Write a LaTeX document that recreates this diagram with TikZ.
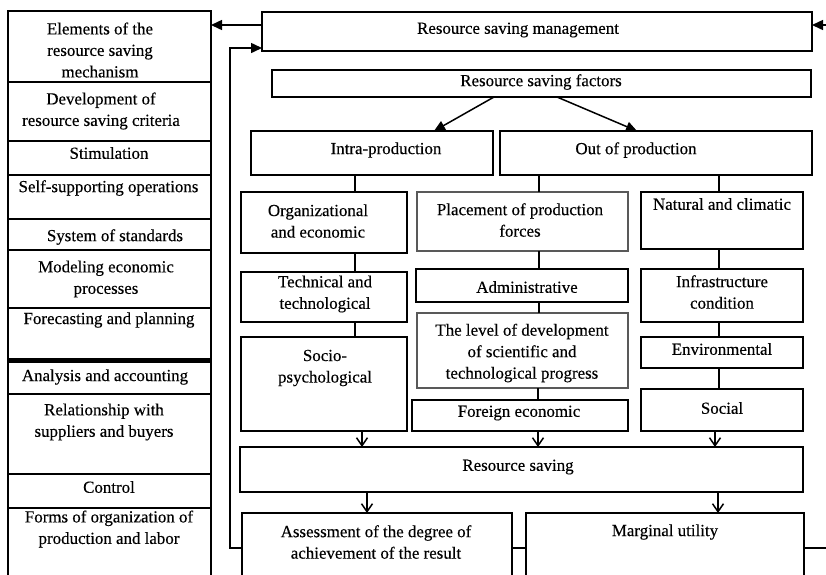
\documentclass[tikz,border=0pt]{standalone}
\usepackage{fontspec}
\setmainfont[FakeBold=0.35]{Liberation Serif}
\usetikzlibrary{arrows.meta}
\tikzset{
  box/.style={draw=black, line width=1.6pt, fill=white, rectangle, inner sep=0pt, outer sep=0pt},
  softbox/.style={box, draw=black!65, line width=1.2pt},
  txt/.style={align=center, inner sep=0pt, font=\fontsize{16.9}{21.5}\selectfont},
  conn/.style={line width=1.5pt},
  fillarrow/.style={line width=1.5pt, -{Triangle[length=11pt,width=10pt]}},
  openarrow/.style={line width=1.5pt, -{Straight Barb[length=8pt,width=11pt,line width=1.5pt]}},
  divider/.style={line width=1.6pt},
}
% \bx{name}{x1}{y1}{x2}{y2}{style}
\newcommand{\bx}[6]{\node[#6, minimum width={(#4-#2)*1pt}, minimum height={(#5-#3)*1pt}] (#1) at ({(#2+#4)/2},{(#3+#5)/2}) {};}
\begin{document}
\begin{tikzpicture}[x=1pt,y=-1pt]
\useasboundingbox (0,0) rectangle (826,574);
\clip (0,0) rectangle (826,574);
\fill[white] (0,0) rectangle (826,574);

% left column
\bx{lc}{8}{11}{211}{600}{box}
\foreach \yy in {82,141,175,219,250,308,394,474,508}{
  \draw[divider] (8,\yy) -- (211,\yy);
}
\draw[line width=5pt] (8,360) -- (211,360);

\node[txt] (lt1) at (100,50) {Elements of the\\resource saving\\mechanism};
\node[txt] (lt2) at (101,111) {Development of\\resource saving criteria};
\node[txt] (lt3) at (109,153) {Stimulation};
\node[txt] (lt4) at (108.5,188) {Self-supporting operations};
\node[txt] (lt5) at (115,237) {System of standards};
\node[txt] (lt6) at (106,279) {Modeling economic\\processes};
\node[txt] (lt7) at (109,320) {Forecasting and planning};
\node[txt] (lt8) at (105,377) {Analysis and accounting};
\node[txt] (lt9) at (104,422) {Relationship with\\suppliers and buyers};
\node[txt] (lt10) at (109,487) {Control};
\node[txt] (lt11) at (109,529) {Forms of organization of\\production and labor};

% right boxes
\bx{rsm}{262}{12}{812}{51}{box}
\bx{rsf}{272}{70}{811}{97}{box}
\bx{intra}{251}{131}{493}{175}{box}
\bx{outp}{500}{131}{812}{175}{box}
\bx{org}{241}{192}{407}{253}{box}
\bx{tech}{241}{272}{407}{322}{box}
\bx{socio}{241}{337}{407}{431}{box}
\bx{place}{417}{192}{628}{251}{softbox}
\bx{admin}{416}{269}{628}{302}{box}
\bx{level}{417}{313}{628}{388}{softbox}
\bx{foreign}{412}{400}{628}{431}{box}
\bx{natural}{641}{192}{803}{249}{box}
\bx{infra}{641}{269}{803}{322}{box}
\bx{env}{641}{337}{803}{368}{box}
\bx{social}{641}{389}{803}{431}{box}
\bx{rs}{240}{447}{803}{492}{box}
\bx{assess}{242}{513}{512}{600}{box}
\bx{marg}{526}{513}{804}{600}{box}

% texts
\node[txt] (t-rsm) at (518,30) {Resource saving management};
\node[txt] (t-rsf) at (541,82) {Resource saving factors};
\node[txt] (t-intra) at (386,150) {Intra-production};
\node[txt] (t-outp) at (636,150) {Out of production};
\node[txt] (t-org) at (318,221) {Organizational\\and economic};
\node[txt] (t-tech) at (325,294) {Technical and\\technological};
\node[txt] (t-socio) at (325,368) {Socio-\\psychological};
\node[txt] (t-place) at (520,220) {Placement of production\\forces};
\node[txt] (t-admin) at (527,287) {Administrative};
\node[txt] (t-level) at (522,353) {The level of development\\of scientific and\\technological progress};
\node[txt] (t-foreign) at (519,413) {Foreign economic};
\node[txt] (t-natural) at (722,204) {Natural and climatic};
\node[txt] (t-infra) at (722,292) {Infrastructure\\condition};
\node[txt] (t-env) at (722,349) {Environmental};
\node[txt] (t-social) at (722,408) {Social};
\node[txt] (t-rs) at (518,467) {Resource saving};
\node[txt] (t-assess) at (376,542) {Assessment of the degree of\\achievement of the result};
\node[txt] (t-marg) at (665,532) {Marginal utility};

% helper coordinates
\coordinate (cx1) at (355,0);
\coordinate (cx2) at (539,0);
\coordinate (cx2b) at (538,0);
\coordinate (cx3) at (719,0);
\coordinate (ax1) at (362,0);
\coordinate (ax3) at (715,0);
\coordinate (bx1) at (367,0);
\coordinate (bx2) at (718,0);
\coordinate (fa1) at (494,0);
\coordinate (fa2) at (434,0);
\coordinate (fa3) at (557,0);
\coordinate (fa4) at (637,0);
\coordinate (yt) at (0,25);
\coordinate (yb) at (0,48);
\coordinate (yl) at (0,548);
\coordinate (fbx) at (230,0);
\coordinate (rin) at (835,25);
\coordinate (rout) at (835,548);

% top arrows
\draw[fillarrow] (rsm.west |- yt) -- (lc.east |- yt);
\draw[fillarrow] (rin) -- (rsm.east |- yt);
\draw[fillarrow] (rsf.south -| fa1) -- (intra.north -| fa2);
\draw[fillarrow] (rsf.south -| fa3) -- (outp.north -| fa4);

% feedback loop
\draw[fillarrow] (assess.west |- yl) -- (fbx |- yl) -- (fbx |- yb) -- (rsm.west |- yb);
\draw[conn] (assess.east |- yl) -- (marg.west |- yl);
\draw[conn] (marg.east |- yl) -- (rout);

% column connectors
\draw[conn] (intra.south -| cx1) -- (org.north -| cx1);
\draw[conn] (org.south -| cx1) -- (tech.north -| cx1);
\draw[conn] (tech.south -| cx1) -- (socio.north -| cx1);
\draw[conn] (outp.south -| cx2) -- (place.north -| cx2);
\draw[conn] (place.south -| cx2) -- (admin.north -| cx2);
\draw[conn] (admin.south -| cx2) -- (level.north -| cx2);
\draw[conn] (level.south -| cx2b) -- (foreign.north -| cx2b);
\draw[conn] (outp.south -| cx3) -- (natural.north -| cx3);
\draw[conn] (natural.south -| cx3) -- (infra.north -| cx3);
\draw[conn] (infra.south -| cx3) -- (env.north -| cx3);
\draw[conn] (env.south -| cx3) -- (social.north -| cx3);

% arrows to and from resource saving
\draw[openarrow] (socio.south -| ax1) -- (rs.north -| ax1);
\draw[openarrow] (foreign.south -| cx2b) -- (rs.north -| cx2b);
\draw[openarrow] (social.south -| ax3) -- (rs.north -| ax3);
\draw[openarrow] (rs.south -| bx1) -- (assess.north -| bx1);
\draw[openarrow] (rs.south -| bx2) -- (marg.north -| bx2);
\end{tikzpicture}
\end{document}
